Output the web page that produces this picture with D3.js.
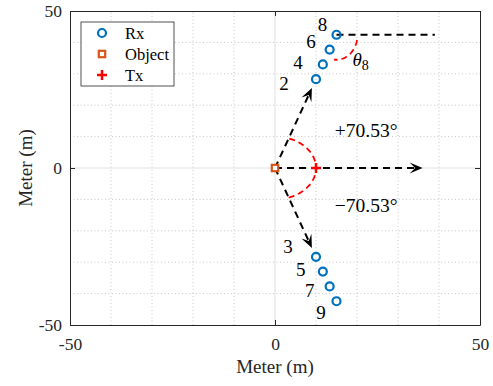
<!DOCTYPE html>
<html>
<head>
<meta charset="utf-8">
<script src="https://cdn.jsdelivr.net/npm/d3@7"></script>
<style>
  html, body { margin: 0; padding: 0; background: #fff; }
  svg { display: block; font-family: "Liberation Serif", "DejaVu Serif", serif; }
</style>
</head>
<body>
<svg class="chart" width="493" height="386"></svg>
<script>
(function () {
    'use strict';

    /* Data */

    var tickValues = [-50, 0, 50],
        minorValues = [-40, -30, -20, -10, 10, 20, 30, 40];

    var rxUpperIds = [2, 4, 6, 8],
        rxLowerIds = [3, 5, 7, 9],
        rxX = [10, 11.67, 13.33, 15],
        rxUpperY = [28.28, 33.0, 37.71, 42.43],
        rxLowerY = [-28.28, -33.0, -37.71, -42.43];

    var objectPos = [0, 0],
        txPos = [10, 0];

    var angleDeg = 70.53,
        angleLabels = ['+70.53\u00b0', '\u221270.53\u00b0'],
        legendNames = ['Rx', 'Object', 'Tx'];

    /* annotation anchors (data units) */
    var upperLabelPos = [[2.2, 24.8], [5.6, 31.4], [8.8, 38.1], [11.6, 43.6]],
        lowerLabelPos = [[3.2, -27.2], [6.3, -34.4], [8.5, -41], [11.2, -48]],
        arrowEnds = [[9, 25.45], [9, -25.45], [36, 0]],
        refLineEnd = 39,
        arcRadius = 10;

    var blue = '#0072BD', orange = '#D95319', red = '#FF0000', ink = '#262626';

    /* Setup */

    var svg = d3.select('.chart');
    var x = d3.scaleLinear().domain([-50, 50]).range([70, 480]),
        y = d3.scaleLinear().domain([-50, 50]).range([325, 11]);

    /* Grid */

    var grid = svg.append('g');
    grid.selectAll('.mx').data(minorValues).enter().append('line')
        .attr('x1', function (d) { return x(d); }).attr('x2', function (d) { return x(d); })
        .attr('y1', y(-50)).attr('y2', y(50))
        .attr('stroke', '#c8c8c8').attr('stroke-dasharray', '1,2.5');
    grid.selectAll('.my').data(minorValues).enter().append('line')
        .attr('y1', function (d) { return y(d); }).attr('y2', function (d) { return y(d); })
        .attr('x1', x(-50)).attr('x2', x(50))
        .attr('stroke', '#c8c8c8').attr('stroke-dasharray', '1,2.5');
    grid.append('line').attr('x1', x(0)).attr('x2', x(0)).attr('y1', y(-50)).attr('y2', y(50))
        .attr('stroke', '#e0e0e0');
    grid.append('line').attr('y1', y(0)).attr('y2', y(0)).attr('x1', x(-50)).attr('x2', x(50))
        .attr('stroke', '#e0e0e0');

    /* Axes */

    function fmt(d) { return String(d); }

    function styleAxis(g) {
        g.select('.domain').attr('stroke', ink);
        g.selectAll('.tick line').attr('stroke', ink);
        g.selectAll('.tick text').attr('fill', ink).attr('font-size', 17.5)
            .attr('font-family', '"Liberation Serif", serif');
    }

    svg.append('g').attr('transform', 'translate(0,' + y(-50) + ')')
        .call(d3.axisBottom(x).tickValues(tickValues).tickFormat(fmt).tickSizeInner(-5).tickSizeOuter(0).tickPadding(13))
        .call(styleAxis);
    svg.append('g').attr('transform', 'translate(0,' + y(50) + ')')
        .call(d3.axisTop(x).tickValues(tickValues).tickFormat('').tickSizeInner(-5).tickSizeOuter(0))
        .call(styleAxis);
    svg.append('g').attr('transform', 'translate(' + x(-50) + ',0)')
        .call(d3.axisLeft(y).tickValues(tickValues).tickFormat(fmt).tickSizeInner(-5).tickSizeOuter(0).tickPadding(8))
        .call(styleAxis);
    svg.append('g').attr('transform', 'translate(' + x(50) + ',0)')
        .call(d3.axisRight(y).tickValues(tickValues).tickFormat('').tickSizeInner(-5).tickSizeOuter(0))
        .call(styleAxis);

    svg.append('text').attr('x', x(0)).attr('y', 373).attr('text-anchor', 'middle')
        .attr('font-size', 19).attr('fill', ink).text('Meter (m)');
    svg.append('text').attr('transform', 'translate(32,' + y(0) + ') rotate(-90)')
        .attr('text-anchor', 'middle').attr('font-size', 19).attr('fill', ink).text('Meter (m)');

    /* Dashed arrows */

    var ann = svg.append('g');

    function arrow(from, to) {
        var x0 = x(from[0]), y0 = y(from[1]), x1 = x(to[0]), y1 = y(to[1]);
        var a = Math.atan2(y1 - y0, x1 - x0), len = 13, half = 5.5, notch = 7.5;
        var ca = Math.cos(a), sa = Math.sin(a);
        ann.append('line')
            .attr('x1', x0).attr('y1', y0)
            .attr('x2', x1 - ca * notch).attr('y2', y1 - sa * notch)
            .attr('stroke', '#000').attr('stroke-width', 2).attr('stroke-dasharray', '7,5');
        var pts = [
            [x1, y1],
            [x1 - ca * len - sa * half, y1 - sa * len + ca * half],
            [x1 - ca * notch, y1 - sa * notch],
            [x1 - ca * len + sa * half, y1 - sa * len - ca * half]
        ];
        ann.append('path').attr('d', 'M' + pts.join('L') + 'Z').attr('fill', '#000');
    }

    arrowEnds.forEach(function (e) { arrow(objectPos, e); });

    /* Reference line at Rx 8 */
    ann.append('line')
        .attr('x1', x(rxX[3])).attr('y1', y(rxUpperY[3]))
        .attr('x2', x(refLineEnd)).attr('y2', y(rxUpperY[3]))
        .attr('stroke', '#000').attr('stroke-width', 2).attr('stroke-dasharray', '7,5');

    /* Red angle arcs */

    var arcLine = d3.line();
    var steps = d3.range(0, 61).map(function (i) { return -angleDeg + i * (2 * angleDeg / 60); });
    ann.append('path')
        .attr('d', arcLine(steps.map(function (t) {
            var r = t * Math.PI / 180;
            return [x(objectPos[0] + arcRadius * Math.cos(r)), y(objectPos[1] + arcRadius * Math.sin(r))];
        })))
        .attr('fill', 'none').attr('stroke', red).attr('stroke-width', 1.8).attr('stroke-dasharray', '6,4');

    var cx8 = x(rxX[3]), cy8 = y(rxUpperY[3]);
    var steps8 = d3.range(0, 41).map(function (i) { return 12 + i * (85 / 40); });
    ann.append('path')
        .attr('d', arcLine(steps8.map(function (t) {
            var r = t * Math.PI / 180;
            return [cx8 + 21 * Math.cos(r), cy8 + 25 * Math.sin(r)];
        })))
        .attr('fill', 'none').attr('stroke', red).attr('stroke-width', 1.8).attr('stroke-dasharray', '6,4');

    /* Angle labels */

    ann.append('text').attr('x', x(14.6)).attr('y', y(10)).attr('font-size', 19.5).text(angleLabels[0]);
    ann.append('text').attr('x', x(14.6)).attr('y', y(-14)).attr('font-size', 19.5).text(angleLabels[1]);
    var th = ann.append('text').attr('x', cx8 + 16).attr('y', cy8 + 31).attr('font-size', 19);
    th.append('tspan').attr('font-style', 'italic').text('\u03b8');
    th.append('tspan').attr('font-size', 14).attr('dy', 4).text('8');

    /* Rx points */

    var marks = svg.append('g');
    var upper = rxX.map(function (v, i) { return [v, rxUpperY[i]]; }),
        lower = rxX.map(function (v, i) { return [v, rxLowerY[i]]; });

    marks.selectAll('.rx').data(upper.concat(lower)).enter().append('circle')
        .attr('cx', function (d) { return x(d[0]); })
        .attr('cy', function (d) { return y(d[1]); })
        .attr('r', 4).attr('fill', 'none').attr('stroke', blue).attr('stroke-width', 2.2);

    marks.selectAll('.lu').data(upperLabelPos).enter().append('text')
        .attr('x', function (d) { return x(d[0]); })
        .attr('y', function (d) { return y(d[1]); })
        .attr('text-anchor', 'middle').attr('font-size', 19)
        .text(function (d, i) { return rxUpperIds[i]; });
    marks.selectAll('.ll').data(lowerLabelPos).enter().append('text')
        .attr('x', function (d) { return x(d[0]); })
        .attr('y', function (d) { return y(d[1]); })
        .attr('text-anchor', 'middle').attr('font-size', 19)
        .text(function (d, i) { return rxLowerIds[i]; });

    /* Object and Tx */

    function square(g, cx, cy) {
        g.append('rect').attr('x', cx - 3.2).attr('y', cy - 3.2).attr('width', 6.4).attr('height', 6.4)
            .attr('fill', '#fff').attr('stroke', orange).attr('stroke-width', 2.2);
    }
    function plus(g, cx, cy) {
        g.append('path').attr('d', 'M' + (cx - 5) + ',' + cy + 'H' + (cx + 5) + 'M' + cx + ',' + (cy - 5) + 'V' + (cy + 5))
            .attr('stroke', red).attr('stroke-width', 2.5);
    }

    square(marks, x(objectPos[0]), y(objectPos[1]));
    plus(marks, x(txPos[0]), y(txPos[1]));

    /* Legend */

    var lg = svg.append('g');
    lg.append('rect').attr('x', 81).attr('y', 22).attr('width', 93).attr('height', 64)
        .attr('fill', '#fff').attr('stroke', ink).attr('stroke-width', 0.8);
    legendNames.forEach(function (name, i) {
        var ly = 33 + i * 21;
        if (i === 0) lg.append('circle').attr('cx', 102).attr('cy', ly).attr('r', 4)
            .attr('fill', 'none').attr('stroke', blue).attr('stroke-width', 2.2);
        if (i === 1) square(lg, 102, ly);
        if (i === 2) plus(lg, 102, ly);
        lg.append('text').attr('x', 125).attr('y', ly).attr('dy', '0.35em')
            .attr('font-size', 16.5).attr('fill', '#000').text(name);
    });

})();
</script>
</body>
</html>
